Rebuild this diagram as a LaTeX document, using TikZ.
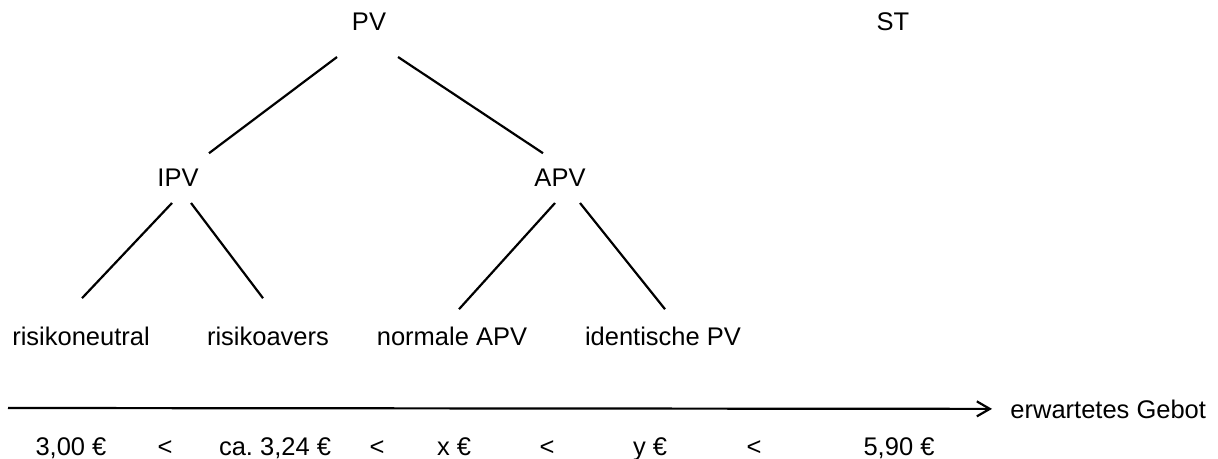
\documentclass[tikz,border=0pt]{standalone}
\usepackage{fontspec}
\setmainfont{Liberation Sans}
\usepackage{tikz}
\usetikzlibrary{arrows.meta,calc}
\frenchspacing

\tikzset{
  lbl/.style={inner sep=0pt, anchor=base, text height=9.2pt, text depth=0pt,
    font=\fontsize{12.75}{15}\selectfont},
  ast/.style={line width=1.1pt},
}

\begin{document}
\begin{tikzpicture}[x=0.5pt,y=-0.5pt]
\useasboundingbox (0,0) rectangle (1218,459);
% Baum
\node[lbl] (PV) at (369,31) {PV};
\node[lbl] (ST) at (893,31) {ST};
\node[lbl] (IPV) at (178,187) {IPV};
\node[lbl] (APV) at (560,187) {APV};
\node[lbl] (neutral) at (81,345) {risikoneutral};
\node[lbl] (avers) at (268,345) {risikoavers};
\node[lbl] (normal) at (452,345) {normale APV};
\node[lbl] (ident) at (663,345) {identische PV};
\draw[ast] ($(PV.base)+(-32,26)$) -- ($(IPV.north)+(31,-15)$);
\draw[ast] ($(PV.base)+(29,26)$) -- ($(APV.north)+(-17,-15)$);
\draw[ast] ($(IPV.base)+(-6,16)$) -- ($(neutral.north)+(1,-28)$);
\draw[ast] ($(IPV.base)+(13,16)$) -- ($(avers.north)+(-5,-28)$);
\draw[ast] ($(APV.base)+(-5,16)$) -- ($(normal.north)+(7,-17)$);
\draw[ast] ($(APV.base)+(20,16)$) -- ($(ident.north)+(2,-17)$);
% Achse
\coordinate (achse) at (8,408);
\node[lbl, anchor=base west, text height=, text depth=] (gebot) at (1010,418) {erwartetes Gebot};
\draw[ast,-{Straight Barb[length=6.5pt,width=7.5pt]}] (achse) -- ([xshift=-9pt]gebot.west);
\foreach \x/\t [count=\i] in {71/{3,00 €},165/{<},275/{ca.\ 3,24 €},377/{<},454/{x €},
    547/{<},650/{y €},754/{<},899/{5,90 €}} {
  \node[lbl, text height=, text depth=] (b\i) at (\x,455) {\t};
}
\end{tikzpicture}
\end{document}
